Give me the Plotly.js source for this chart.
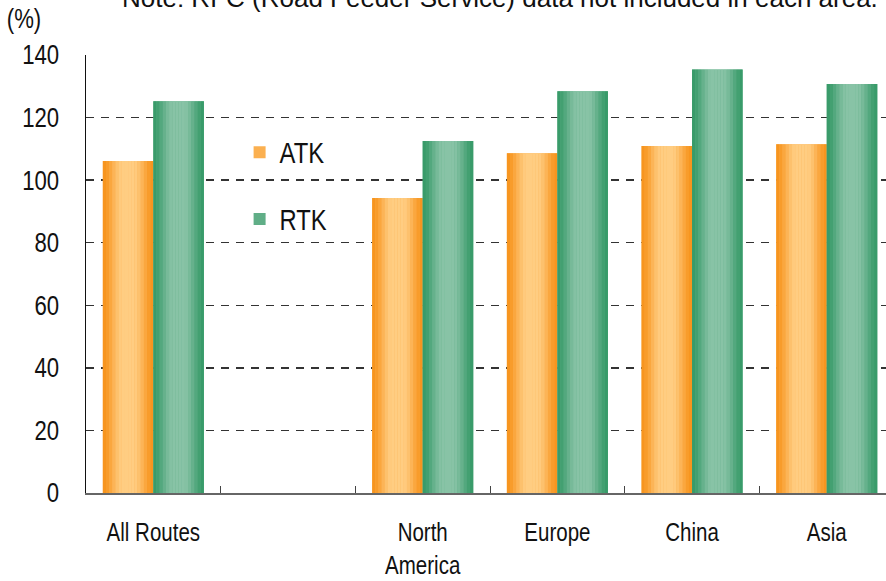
<!DOCTYPE html>
<html>
<head>
<meta charset="utf-8">
<script src="https://cdn.plot.ly/plotly-3.0.1.min.js"></script>
<style>
  html, body { margin: 0; padding: 0; background: #fff; }
  #chart { width: 886px; height: 581px; }
</style>
</head>
<body>
<div id="chart"></div>
<script>
// Categories (the blank slot separates the overall figure from the regions)
const categories = ['All Routes', ' ', 'North<br>America', 'Europe', 'China', 'Asia'];
// Year-on-year change, %
const atkValues = [106.1, null, 94.3, 108.6, 110.9, 111.5];
const rtkValues = [125.2, null, 112.5, 128.4, 135.4, 130.7];
const seriesNames = ['ATK', 'RTK'];
const yTicks = [0, 20, 40, 60, 80, 100, 120, 140];

const SANS = '"Liberation Sans", Arial, sans-serif';
const NARROW_K = 0.82;   // horizontal squeeze giving a narrow face
const BAR_W = 0.375;
const SLICES = 16;

// Horizontal cylinder shading: dark edges, light centre
function shade(t) {
  const ease = u => u * u * (3 - 2 * u);
  if (t < 0.4) return ease(t / 0.4);
  if (t < 0.6) return 1;
  return ease((1 - t) / 0.4);
}
function mix(a, b, f) {
  return 'rgb(' + a.map((v, i) => Math.round(v + (b[i] - v) * f)).join(',') + ')';
}

const palettes = {
  ATK: { edge: [247, 148, 29], light: [255, 205, 130], base: 'rgb(251,176,80)' },
  RTK: { edge: [56, 154, 105], light: [136, 195, 166], base: 'rgb(96,174,135)' }
};

const traces = [];
[[seriesNames[0], atkValues, -BAR_W], [seriesNames[1], rtkValues, 0]].forEach(([name, vals, off]) => {
  const p = palettes[name];
  // full bar underneath, also carries the legend entry
  traces.push({
    type: 'bar', x: categories, y: vals, name: name,
    legendgroup: name, showlegend: true,
    offset: off, width: BAR_W,
    marker: { color: p.base, line: { width: 0 } },
    hoverinfo: 'skip'
  });
  const sw = BAR_W / SLICES;
  for (let i = 0; i < SLICES; i++) {
    const t = (i + 0.5) / SLICES;
    traces.push({
      type: 'bar', x: categories, y: vals, name: name,
      legendgroup: name, showlegend: false,
      offset: off + i * sw, width: sw * 1.02,
      marker: { color: mix(p.edge, p.light, shade(t)), line: { width: 0 } },
      hoverinfo: 'skip'
    });
  }
});

const layout = {
  width: 886, height: 581,
  margin: { l: 86, r: 0, t: 55, b: 87.5 },
  paper_bgcolor: '#fff', plot_bgcolor: '#fff',
  barmode: 'overlay',
  showlegend: true,
  legend: {
    x: 0.192, y: 0.836, xanchor: 'left', yanchor: 'top',
    bgcolor: 'rgba(0,0,0,0)',
    font: { family: SANS, size: 29, color: '#111' },
    traceorder: 'grouped', tracegroupgap: 26,
    itemwidth: 30
  },
  xaxis: {
    type: 'category',
    categoryorder: 'array', categoryarray: categories,
    range: [-0.5, 5.44],
    showline: true, linecolor: '#666', linewidth: 2,
    ticks: 'inside', tickson: 'boundaries', ticklen: 7, tickcolor: '#444', tickwidth: 1,
    tickfont: { family: SANS, size: 25, color: '#111' },
    ticklabelstandoff: 16,
    showgrid: false, zeroline: false, fixedrange: true
  },
  yaxis: {
    range: [0, 140],
    tickmode: 'array', tickvals: yTicks,
    showline: true, linecolor: '#111', linewidth: 1.5,
    ticks: '',
    tickfont: { family: SANS, size: 27, color: '#111' },
    ticklabelstandoff: 20,
    showgrid: true, gridcolor: '#333', gridwidth: 1.3, griddash: '8px,7px',
    zeroline: false, fixedrange: true
  },
  shapes: [{
    // blank panel behind the legend, interrupting the grid
    type: 'rect', layer: 'between',
    xref: 'paper', yref: 'paper',
    x0: (216 - 86) / 800, x1: (351 - 86) / 800,
    y0: 1 - (250 - 55) / 438.5, y1: 1 - (125 - 55) / 438.5,
    fillcolor: '#fff', line: { width: 0 }
  }],
  annotations: [
    {
      text: 'Note: RFC (Road Feeder Service) data not included in each area.',
      xref: 'paper', yref: 'paper', x: (120 - 86) / 800, y: 1 + (55 + 2.5) / 438.5,
      xanchor: 'left', yanchor: 'middle', showarrow: false,
      font: { family: SANS, size: 26, color: '#111' }
    },
    {
      text: '(%)',
      xref: 'paper', yref: 'paper', x: (24 - 86) / 800, y: 1 + (55 - 19) / 438.5,
      xanchor: 'center', yanchor: 'middle', showarrow: false,
      font: { family: SANS, size: 27, color: '#111' }
    }
  ]
};

// squeeze glyphs horizontally (narrow typeface look), keeping each anchor
function condense(selector, k) {
  document.querySelectorAll(selector).forEach(t => {
    const lines = t.querySelectorAll('tspan.line');
    const targets = lines.length ? Array.from(lines) : [t];
    targets.forEach(el => {
      const len = el.getComputedTextLength();
      if (len > 0) {
        el.setAttribute('textLength', (len * k).toFixed(2));
        el.setAttribute('lengthAdjust', 'spacingAndGlyphs');
      }
    });
  });
}

Plotly.newPlot('chart', traces, layout, { staticPlot: true, displayModeBar: false }).then(() => {
  condense('#chart .xtick text', NARROW_K);
  condense('#chart .ytick text', NARROW_K);
  condense('#chart .legendtext', NARROW_K);
  condense('#chart .annotation[data-index="1"] text', NARROW_K);
});
</script>
</body>
</html>
